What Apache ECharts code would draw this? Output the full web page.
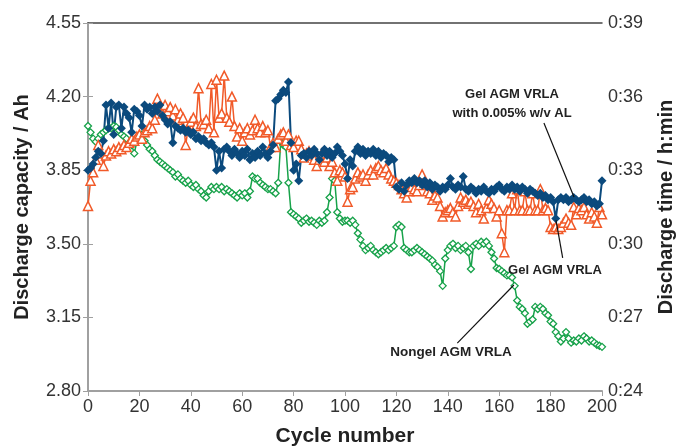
<!DOCTYPE html>
<html><head><meta charset="utf-8">
<script src="https://cdn.jsdelivr.net/npm/echarts@6/dist/echarts.min.js"></script>
<style>html,body{margin:0;padding:0;background:#fff}#c{width:678px;height:447px}</style>
</head><body><div id="c"></div>
<script>
// Discharge capacity (Ah) per cycle, cycle = index 0..200
const blueAL = [3.85,3.86,3.88,3.91,3.94,3.93,3.99,4.16,4.05,4.17,
4.02,4.15,4.16,4.05,4.15,4.12,4.10,4.03,4.14,4.13,
4.11,4.06,4.16,4.14,4.15,4.12,4.15,4.13,4.16,4.11,
4.09,4.07,4.08,3.98,4.06,4.05,4.04,4.05,4.03,4.04,
4.02,4.03,4.00,4.01,3.99,4.00,3.98,3.97,3.98,3.96,
3.85,3.94,3.86,3.95,3.96,3.94,3.92,3.95,3.93,3.91,
3.94,3.92,3.95,3.90,3.93,3.91,3.94,3.92,3.96,3.93,
3.91,3.94,3.97,4.18,4.19,4.21,4.23,4.22,4.27,3.98,
3.85,3.88,3.80,3.92,3.93,3.91,3.94,3.92,3.95,3.93,
3.90,3.93,3.95,3.92,3.94,3.91,3.93,3.96,3.94,3.92,
3.88,3.81,3.90,3.87,3.94,3.96,3.93,3.95,3.92,3.94,
3.93,3.95,3.92,3.94,3.91,3.93,3.92,3.89,3.91,3.90,
3.77,3.76,3.79,3.75,3.78,3.80,3.79,3.81,3.79,3.80,
3.78,3.80,3.77,3.79,3.76,3.78,3.77,3.75,3.77,3.76,
3.78,3.81,3.77,3.76,3.78,3.77,3.82,3.76,3.75,3.77,
3.76,3.74,3.76,3.75,3.77,3.75,3.74,3.76,3.75,3.77,
3.78,3.76,3.75,3.77,3.76,3.78,3.76,3.77,3.75,3.77,
3.76,3.74,3.76,3.75,3.74,3.73,3.74,3.72,3.73,3.71,
3.72,3.70,3.62,3.71,3.72,3.71,3.72,3.70,3.71,3.72,
3.71,3.70,3.71,3.72,3.70,3.71,3.69,3.70,3.68,3.69,
3.80];
const orangeGel = [3.68,3.80,3.84,3.90,3.97,3.93,3.87,3.92,3.94,3.93,
3.95,3.94,3.96,3.95,3.97,3.96,3.98,4.00,3.99,4.01,
4.02,4.00,4.03,4.04,4.06,4.05,4.09,4.19,4.14,4.12,
4.16,4.13,4.15,4.11,4.14,4.09,4.12,4.10,3.97,4.05,
4.08,4.10,4.06,4.24,4.07,4.07,4.09,4.05,4.26,4.03,
4.28,4.10,4.12,4.30,4.10,4.08,4.20,4.06,4.01,4.05,
3.99,4.03,4.05,4.02,4.04,4.09,4.05,4.03,4.06,4.03,
4.04,3.96,3.98,3.96,4.00,4.02,4.03,3.99,4.02,3.97,
3.96,3.99,3.99,3.95,3.91,3.93,3.94,3.92,3.90,3.87,
3.90,3.93,3.89,3.91,3.87,3.89,3.84,3.80,3.85,3.84,
3.82,3.70,3.76,3.77,3.81,3.84,3.82,3.83,3.80,3.83,
3.85,3.83,3.86,3.87,3.85,3.84,3.86,3.83,3.81,3.80,
3.79,3.78,3.76,3.74,3.72,3.75,3.77,3.76,3.75,3.78,
3.83,3.79,3.75,3.74,3.71,3.73,3.72,3.68,3.63,3.65,
3.66,3.67,3.65,3.63,3.68,3.72,3.70,3.71,3.69,3.70,
3.68,3.65,3.69,3.66,3.62,3.67,3.71,3.69,3.67,3.63,
3.66,3.55,3.46,3.66,3.66,3.74,3.66,3.76,3.66,3.66,
3.75,3.66,3.66,3.74,3.66,3.66,3.76,3.66,3.67,3.66,
3.58,3.57,3.58,3.57,3.58,3.60,3.62,3.60,3.59,3.675,
3.64,3.67,3.66,3.675,3.64,3.62,3.65,3.63,3.60,3.675,
3.64];
const greenNongel = [4.06,4.03,4.00,3.985,4.00,4.02,4.03,4.04,4.05,4.05,
4.06,4.055,4.04,4.02,4.01,4.00,3.98,3.97,3.93,3.985,
4.00,4.02,3.99,3.97,3.95,3.94,3.92,3.90,3.89,3.88,
3.87,3.86,3.85,3.84,3.82,3.83,3.81,3.80,3.79,3.80,
3.78,3.77,3.78,3.76,3.75,3.73,3.72,3.75,3.77,3.76,
3.77,3.76,3.77,3.75,3.76,3.75,3.74,3.73,3.72,3.74,
3.73,3.74,3.72,3.75,3.82,3.81,3.81,3.79,3.78,3.77,
3.76,3.76,3.75,3.74,3.79,3.985,3.97,3.96,3.79,3.65,
3.64,3.63,3.62,3.60,3.61,3.62,3.605,3.61,3.60,3.59,
3.61,3.60,3.61,3.65,3.72,3.81,3.80,3.65,3.62,3.605,
3.61,3.61,3.60,3.61,3.59,3.55,3.52,3.49,3.47,3.48,
3.49,3.47,3.46,3.45,3.46,3.47,3.48,3.47,3.48,3.49,
3.58,3.59,3.58,3.48,3.47,3.46,3.46,3.47,3.48,3.47,
3.46,3.45,3.44,3.43,3.42,3.40,3.39,3.37,3.30,3.43,
3.47,3.49,3.50,3.48,3.49,3.47,3.48,3.49,3.46,3.38,
3.49,3.50,3.49,3.51,3.50,3.51,3.49,3.46,3.43,3.385,
3.38,3.37,3.36,3.35,3.35,3.34,3.30,3.23,3.20,3.19,
3.17,3.12,3.13,3.14,3.20,3.19,3.20,3.19,3.17,3.16,
3.13,3.12,3.08,3.06,3.035,3.05,3.08,3.05,3.03,3.04,
3.035,3.05,3.04,3.06,3.05,3.035,3.04,3.03,3.02,3.015,
3.01];
const leftTicks = {min: 2.80, max: 4.55, interval: 0.35};
const rightTicks = {min: 24, max: 39, interval: 3};

const toPairs = a => a.map((v, i) => [i, v]);
const FONT = '"Liberation Sans", Arial, sans-serif';
const axisGrey = '#a0a0a0';

const chart = echarts.init(document.getElementById('c'), null, {renderer: 'canvas'});
chart.setOption({
  animation: false,
  backgroundColor: '#fff',
  grid: {left: 88, right: 76, top: 23, bottom: 56, containLabel: false, outerBoundsMode: 'none'},
  xAxis: [{
    type: 'value', min: 0, max: 200, interval: 20,
    name: 'Cycle number', nameLocation: 'middle', nameGap: 35,
    nameTextStyle: {fontFamily: FONT, fontSize: 21, fontWeight: 'bold', color: '#222'},
    axisLine: {lineStyle: {color: axisGrey, width: 2}},
    axisTick: {show: true, length: 5, lineStyle: {color: axisGrey}},
    axisLabel: {fontFamily: FONT, fontSize: 18, color: '#333', margin: 7},
    splitLine: {show: false}
  }, {
    type: 'value', min: 0, max: 200, position: 'top',
    axisLine: {show: true, lineStyle: {color: '#444', width: 1.5}},
    axisTick: {show: false}, axisLabel: {show: false}, splitLine: {show: false}
  }],
  yAxis: [{
    type: 'value', min: leftTicks.min, max: leftTicks.max, interval: leftTicks.interval,
    name: 'Discharge capacity / Ah', nameLocation: 'middle', nameGap: 56,
    nameTextStyle: {fontFamily: FONT, fontSize: 20, fontWeight: 'bold', color: '#222'},
    axisLine: {show: true, lineStyle: {color: axisGrey, width: 2}},
    axisTick: {show: true, length: 5, lineStyle: {color: axisGrey}},
    axisLabel: {fontFamily: FONT, fontSize: 18, color: '#333', margin: 7, formatter: v => v.toFixed(2)},
    splitLine: {show: false}
  }, {
    type: 'value', min: rightTicks.min, max: rightTicks.max, interval: rightTicks.interval,
    position: 'right',
    name: 'Discharge time / h:min', nameLocation: 'middle', nameGap: 54, nameRotate: 90,
    nameTextStyle: {fontFamily: FONT, fontSize: 20, fontWeight: 'bold', color: '#222'},
    axisLine: {show: true, lineStyle: {color: axisGrey, width: 2}},
    axisTick: {show: true, length: 5, lineStyle: {color: axisGrey}},
    axisLabel: {fontFamily: FONT, fontSize: 18, color: '#333', margin: 6, formatter: v => '0:' + v},
    splitLine: {show: false}
  }],
  series: [{
    name: 'Nongel AGM VRLA', type: 'line', data: toPairs(greenNongel),
    symbol: 'diamond', symbolSize: 7,
    itemStyle: {color: '#fff', borderColor: '#17a24a', borderWidth: 1.3},
    lineStyle: {color: '#17a24a', width: 1.5},
    markLine: {silent: true, symbol: 'none', label: {show: false},
      lineStyle: {color: '#111', type: 'solid', width: 1.2},
      data: [[{coord: [143.7, 3.028]}, {coord: [165.7, 3.304]}]]}
  }, {
    name: 'Gel AGM VRLA', type: 'line', data: toPairs(orangeGel),
    symbol: 'triangle', symbolSize: 9,
    itemStyle: {color: '#fff', borderColor: '#f15a29', borderWidth: 1.5},
    lineStyle: {color: '#f15a29', width: 1.5},
    markLine: {silent: true, symbol: 'none', label: {show: false},
      lineStyle: {color: '#111', type: 'solid', width: 1.2},
      data: [[{coord: [182.1, 3.613]}, {coord: [184.7, 3.433]}]]}
  }, {
    name: 'Gel AGM VRLA with 0.005% w/v AL', type: 'line', data: toPairs(blueAL),
    symbol: 'diamond', symbolSize: 9,
    itemStyle: {color: '#0b4a7d'},
    lineStyle: {color: '#0b4a7d', width: 2},
    markLine: {silent: true, symbol: 'none', label: {show: false},
      lineStyle: {color: '#111', type: 'solid', width: 1.2},
      data: [[{coord: [177.4, 4.074]}, {coord: [189.1, 3.723]}]]}
  }],
  graphic: [
    {type: 'text', x: 512, y: 85, z: 100, style: {text: 'Gel AGM VRLA\nwith 0.005% w/v AL', align: 'center', verticalAlign: 'top', lineHeight: 19,
      font: 'bold 13px ' + FONT, fill: '#222'}},
    {type: 'text', x: 555, y: 270, z: 100, style: {text: 'Gel AGM VRLA', align: 'center', verticalAlign: 'middle', font: 'bold 13px ' + FONT, fill: '#222'}},
    {type: 'text', x: 451, y: 352, z: 100, style: {text: 'Nongel AGM VRLA', align: 'center', verticalAlign: 'middle', font: 'bold 13.5px ' + FONT, fill: '#222'}}
  ]
});
</script></body></html>
